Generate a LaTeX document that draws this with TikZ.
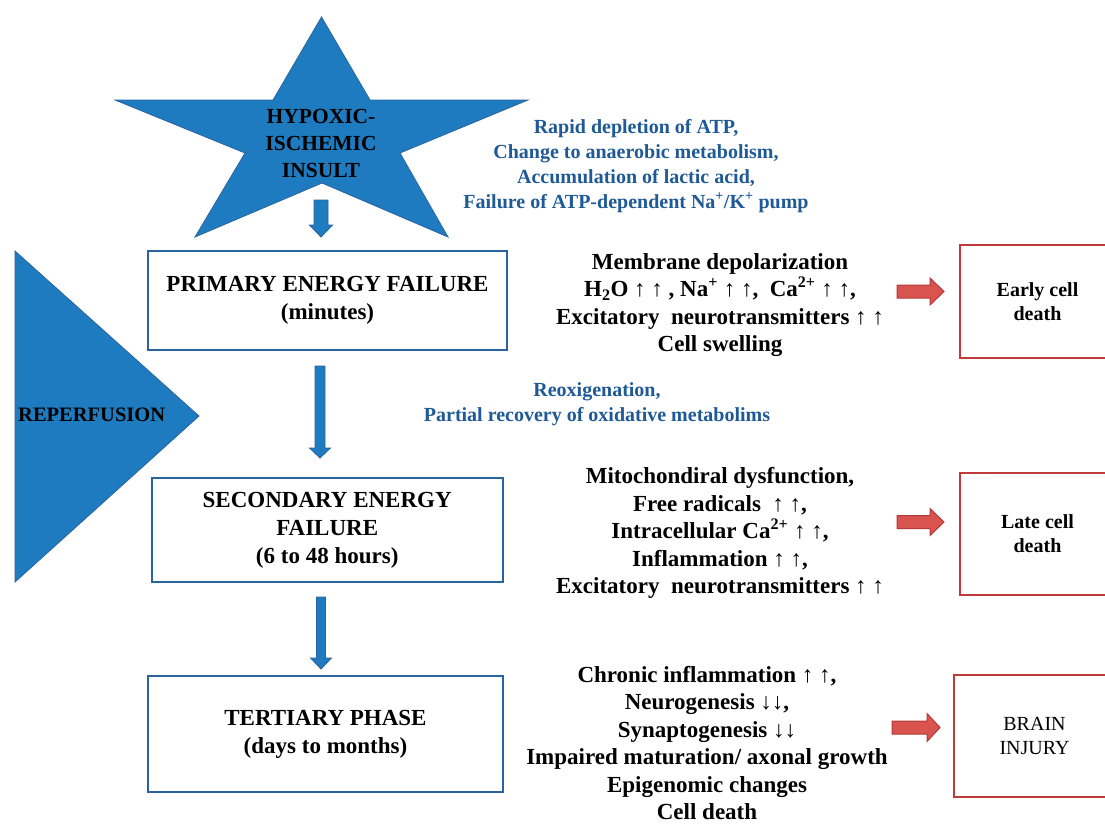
\documentclass[tikz,border=0pt]{standalone}
\usepackage{fontspec}
\setmainfont{Liberation Serif}
\definecolor{starblue}{HTML}{1F7BBF}
\definecolor{edgeblue}{HTML}{2A64A0}
\definecolor{txtblue}{HTML}{1F5A96}
\definecolor{boxred}{HTML}{C0393B}
\definecolor{arrred}{HTML}{D9534F}
\definecolor{arredge}{HTML}{B33A38}
\newcommand{\up}{\textmd{↑}}
\newcommand{\dn}{\textmd{↓}}
\tikzset{
  bluebox/.style={draw=edgeblue, line width=2.2pt, fill=white, inner sep=0pt,
    align=center, font=\bfseries\fontsize{23}{28}\selectfont},
  redbox/.style={draw=boxred, line width=2.8pt, inner sep=0pt,
    align=center, font=\bfseries\fontsize{20}{24}\selectfont},
  bluefill/.style={fill=starblue, draw=edgeblue, line width=0.8pt, line join=miter},
  redfill/.style={fill=arrred, draw=arredge, line width=1pt},
  effect/.style={align=center, font=\bfseries\fontsize{23}{27.5}\selectfont},
  mech/.style={align=center, text=txtblue, font=\bfseries\fontsize{20}{25}\selectfont},
}
% vertical block arrow: x, ytop, yhead, ytip, half shaft, half head
\newcommand{\vblock}[6]{%
  \draw[bluefill] (#1-#5,#2) -- (#1+#5,#2) -- (#1+#5,#3) -- (#1+#6,#3) -- (#1,#4)
    -- (#1-#6,#3) -- (#1-#5,#3) -- cycle;}
% horizontal block arrow: y, xstart, xhead, xtip, half shaft, half head
\newcommand{\hblock}[6]{%
  \draw[redfill] (#2,#1-#5) -- (#3,#1-#5) -- (#3,#1-#6) -- (#4,#1) -- (#3,#1+#6)
    -- (#3,#1+#5) -- (#2,#1+#5) -- cycle;}
\begin{document}
\begin{tikzpicture}[x=1pt,y=-1pt]
\useasboundingbox[fill=white] (0,0) rectangle (1105,823);

% star
\draw[bluefill] (321.5,17) -- (370,100) -- (528,100) -- (400,153) -- (448,237)
  -- (322,183) -- (195,237) -- (245,153) -- (115,100) -- (273,100) -- cycle;
\node[align=center, font=\bfseries\fontsize{21.5}{27}\selectfont] (star) at (321,143)
  {HYPOXIC-\\ISCHEMIC\\INSULT};

% reperfusion triangle
\draw[bluefill] (15,251) -- (199,416) -- (15,582) -- cycle;
\node[anchor=west, font=\bfseries\fontsize{20.5}{24}\selectfont, inner sep=0pt] (rep) at (18,415) {REPERFUSION};

% phase boxes
\node[bluebox, minimum width=359pt, minimum height=99pt] (prim) at (327.5,300.5)
  {PRIMARY ENERGY FAILURE\\(minutes)};
\node[bluebox, minimum width=351pt, minimum height=104pt] (sec) at (327.2,530)
  {SECONDARY ENERGY\\FAILURE\\(6 to 48 hours)};
\node[bluebox, minimum width=355pt, minimum height=116pt] (ter) at (325.5,734)
  {TERTIARY PHASE\\(days to months)};

% blue arrows
\vblock{321}{200}{225}{237}{7}{11.5}
\vblock{320}{366}{448}{458}{5}{10.5}
\vblock{321}{597}{658}{669}{4.5}{10.5}

% mechanism texts
\node[mech] (m1) at (636,166)
  {Rapid depletion of ATP,\\Change to anaerobic metabolism,\\Accumulation of lactic acid,\\Failure of ATP-dependent Na\textsuperscript{+}/K\textsuperscript{+} pump};
\node[mech] (m2) at (597,404)
  {Reoxigenation,\\Partial recovery of oxidative metabolims};

% effect texts
\node[effect] (e1) at (720,305)
  {Membrane depolarization\\
   H\textsubscript{2}O \up\ \up\ , Na\textsuperscript{+} \up\ \up,\ \ Ca\textsuperscript{2+} \up\ \up,\\
   Excitatory\ \ neurotransmitters \up\ \up\\
   Cell swelling};
\node[effect] (e2) at (720,533)
  {Mitochondiral dysfunction,\\
   Free radicals\ \ \up\ \up,\\
   Intracellular Ca\textsuperscript{2+} \up\ \up,\\
   Inflammation \up\ \up,\\
   Excitatory\ \ neurotransmitters \up\ \up};
\node[effect] (e3) at (707,743)
  {Chronic inflammation \up\ \up,\\
   Neurogenesis \dn\dn,\\
   Synaptogenesis \dn\dn\\
   Impaired maturation/ axonal growth\\
   Epigenomic changes\\
   Cell death};

% outcome boxes
\node[redbox, minimum width=155pt, minimum height=113pt] (o1) at (1037.5,301.5)
  {Early cell\\death};
\node[redbox, minimum width=155pt, minimum height=122pt] (o2) at (1037.5,534)
  {Late cell\\death};
\node[redbox, minimum width=161pt, minimum height=122pt, font=\fontsize{20}{24}\selectfont] (o3) at (1034.5,736)
  {BRAIN\\INJURY};

% red arrows
\hblock{291.5}{897}{930}{944}{6.5}{13.5}
\hblock{522}{897}{930}{944}{6.5}{13.5}
\hblock{727.5}{892}{927}{940}{6.5}{14}
\end{tikzpicture}
\end{document}
